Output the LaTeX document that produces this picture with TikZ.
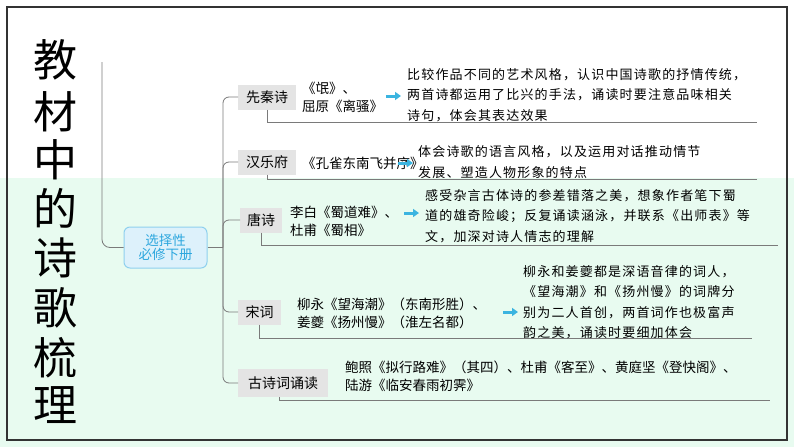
\documentclass[tikz,border=0pt]{standalone}
\usepackage{fontspec}
\usetikzlibrary{arrows.meta}
\setmainfont{Noto Sans CJK SC}
\newfontfamily\cjk{Noto Sans CJK SC}
\newfontfamily\cjksp[LetterSpace=9]{Noto Sans CJK SC}
\definecolor{bggreen}{HTML}{E8FBF0}
\definecolor{cat}{HTML}{E4E4E4}
\definecolor{arr}{HTML}{3BB4E0}
\definecolor{lnc}{HTML}{7A7A7A}
\definecolor{rootfill}{HTML}{DDF1FB}
\definecolor{rootdraw}{HTML}{8FD0EE}
\definecolor{roottext}{HTML}{2DA7DE}
\begin{document}
\begin{tikzpicture}[x=1pt,y=-1pt,
  catbox/.style={fill=cat,inner sep=0pt,minimum height=25pt,font=\cjk\fontsize{14}{14}\selectfont,anchor=west},
  work/.style={anchor=west,inner sep=0pt,align=left,font=\cjk\fontsize{13.5}{18}\selectfont},
  desc/.style={anchor=west,inner sep=0pt,align=left,font=\cjksp\fontsize{13}{20.5}\selectfont},
  conn/.style={draw=lnc,line width=0.8pt},
  arrowc/.style={-{Triangle[length=6pt,width=8pt]},draw=arr,line width=3pt}]
\useasboundingbox (0,0) rectangle (794,447);
\fill[white] (0,0) rectangle (794,447);
\fill[bggreen] (0,178) rectangle (794,447);
\draw[line width=2pt,draw=black!80] (7,7) rectangle (787,440);
% title
\foreach \c/\yy in {教/60,材/112,中/160,的/208,诗/258,歌/308,梳/358,理/405}
  \node[font=\cjk\fontsize{44}{44}\selectfont,inner sep=0pt] (t\yy) at (55,\yy) {\c};
\coordinate (top) at (102,62);
\node[fill=rootfill,draw=rootdraw,line width=1pt,rounded corners=6pt,minimum width=83pt,minimum height=41pt,align=center,text=roottext,font=\cjk\fontsize{13.5}{14}\selectfont,inner sep=1pt] (root) at (165.5,247.5) {选择性\\必修下册};
\draw[conn,rounded corners=8pt] (top) -- (102,247.5) -- (root.west);
\coordinate (hub) at (223,247.5);
\draw[conn] (root.east) -- (hub);
% categories
\node[catbox,minimum width=58pt] (c1) at (238,97) {先秦诗};
\node[catbox,minimum width=58pt] (c2) at (238,162) {汉乐府};
\node[catbox,minimum width=42pt] (c3) at (240,220) {唐诗};
\node[catbox,minimum width=43pt] (c4) at (238,312) {宋词};
\node[catbox,minimum width=90pt,minimum height=28pt] (c5) at (238,383) {古诗词诵读};
\foreach \n in {c1,c2,c3,c4,c5}
  \draw[conn,rounded corners=6pt] (hub) -- (hub |- \n.west) -- (\n.west);
% underlines
\coordinate (u1) at (757,122); \draw[conn] (c1.south) -- (c1.south |- u1) -- (u1);
\coordinate (u2) at (757,179); \draw[conn] (c2.south) -- (c2.south |- u2) -- (u2);
\coordinate (u3) at (778,245); \draw[conn] (c3.south) -- (c3.south |- u3) -- (u3);
\coordinate (u4) at (752,338); \draw[conn] (c4.south) -- (c4.south |- u4) -- (u4);
\coordinate (u5) at (770,400); \draw[conn] ([xshift=-4pt]c5.south) -- ([xshift=-4pt]c5.south |- u5) -- (u5);
% works
\node[work] (w1) at (302,97) {《氓》、\\屈原《离骚》};
\node[work] (w2) at (302,163) {《孔雀东南飞并序》};
\node[work] (w3) at (290,221) {李白《蜀道难》、\\杜甫《蜀相》};
\node[work] (w4) at (297,313) {柳永《望海潮》（东南形胜）、\\姜夔《扬州慢》（淮左名都）};
\node[work] (w5) at (345,376) {鲍照《拟行路难》（其四）、杜甫《客至》、黄庭坚《登快阁》、\\陆游《临安春雨初霁》};
% descriptions
\node[desc] (d1) at (407,95) {比较作品不同的艺术风格，认识中国诗歌的抒情传统，\\两首诗都运用了比兴的手法，诵读时要注意品味相关\\诗句，体会其表达效果};
\node[desc] (d2) at (418,162) {体会诗歌的语言风格，以及运用对话推动情节\\发展、塑造人物形象的特点};
\node[desc] (d3) at (425,216) {感受杂言古体诗的参差错落之美，想象作者笔下蜀\\道的雄奇险峻；反复诵读涵泳，并联系《出师表》等\\文，加深对诗人情志的理解};
\node[desc] (d4) at (523,302) {柳永和姜夔都是深语音律的词人，\\《望海潮》和《扬州慢》的词牌分\\别为二人首创，两首词作也极富声\\韵之美，诵读时要细加体会};
% arrows
\coordinate (a1s) at (386,96); \coordinate (a1e) at (401,96);
\coordinate (a2s) at (398,163); \coordinate (a2e) at (413,163);
\coordinate (a3s) at (404,213); \coordinate (a3e) at (419,213);
\coordinate (a4s) at (503,312); \coordinate (a4e) at (518,312);
\draw[arrowc] (a1s) -- (a1e);
\draw[arrowc] (a2s) -- (a2e);
\draw[arrowc] (a3s) -- (a3e);
\draw[arrowc] (a4s) -- (a4e);
\end{tikzpicture}
\end{document}
